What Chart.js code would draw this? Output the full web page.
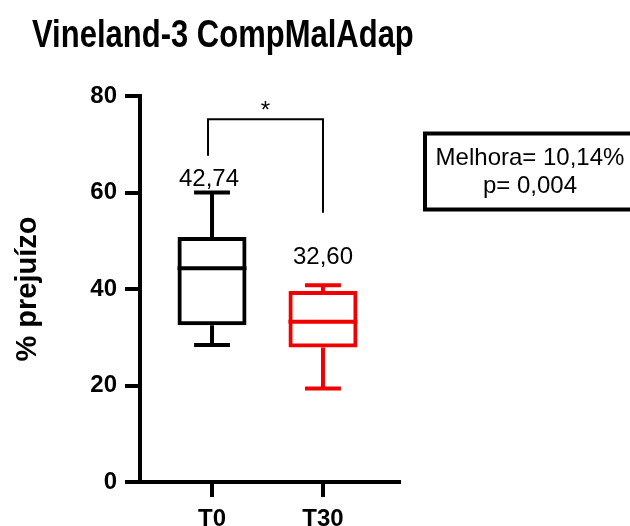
<!DOCTYPE html>
<html>
<head>
<meta charset="utf-8">
<title>Vineland-3 CompMalAdap</title>
<script src="https://cdn.jsdelivr.net/npm/chart.js@4.4.1/dist/chart.umd.min.js"></script>
<style>
  html, body { margin: 0; padding: 0; background: #fff; }
  canvas { display: block; }
</style>
</head>
<body>
<canvas id="chart" width="630" height="526"></canvas>
<script>
const groups = ["T0", "T30"];
const groupX = [1, 2];
const q1 = [32.5, 27.9];
const q3 = [50.8, 39.6];
const medians = [44.3, 33.2];
const mins = [28.4, 19.4];
const maxs = [60.0, 40.8];
const means = [42.74, 32.60];
const yTicks = [0, 20, 40, 60, 80];
const colors = ["#000000", "#f00000"];
const improvement = 10.14;
const pValue = 0.004;

const FONT = "'Liberation Sans', Arial, sans-serif";
const fmt = (v, d) => v.toFixed(d).replace(".", ",");

/* whiskers, medians, mean labels, significance bracket, stats box, title */
const boxExtras = {
  id: "boxExtras",
  afterDatasetsDraw(chart) {
    const ctx = chart.ctx;
    const y = chart.scales.y;
    const bars = chart.getDatasetMeta(0).data;

    ctx.save();
    ctx.lineWidth = 4;
    ctx.lineCap = "butt";
    bars.forEach((bar, i) => {
      const half = bar.width / 2;
      const cap = bar.width * 0.26;
      const yMed = y.getPixelForValue(medians[i]);
      const yTop = y.getPixelForValue(q3[i]);
      const yBot = y.getPixelForValue(q1[i]);
      const yMax = y.getPixelForValue(maxs[i]);
      const yMin = y.getPixelForValue(mins[i]);
      ctx.strokeStyle = colors[i];
      ctx.beginPath();
      ctx.moveTo(bar.x - half, yMed); ctx.lineTo(bar.x + half, yMed);
      ctx.moveTo(bar.x, yTop); ctx.lineTo(bar.x, yMax);
      ctx.moveTo(bar.x - cap, yMax); ctx.lineTo(bar.x + cap, yMax);
      ctx.moveTo(bar.x, yBot); ctx.lineTo(bar.x, yMin);
      ctx.moveTo(bar.x - cap, yMin); ctx.lineTo(bar.x + cap, yMin);
      ctx.stroke();
    });

    // mean labels
    const labelAt = [61.3, 45.2];
    const labelShift = [-3, 0];
    ctx.fillStyle = "#000";
    ctx.font = "24px " + FONT;
    ctx.textAlign = "center";
    ctx.textBaseline = "alphabetic";
    bars.forEach((bar, i) => {
      ctx.fillText(fmt(means[i], 2), bar.x + labelShift[i], y.getPixelForValue(labelAt[i]));
    });

    // significance bracket
    const xl = bars[0].x - 4;
    const xr = bars[1].x;
    const yb = y.getPixelForValue(75.2);
    ctx.strokeStyle = "#000";
    ctx.lineWidth = 2;
    ctx.beginPath();
    ctx.moveTo(xl, y.getPixelForValue(67.6));
    ctx.lineTo(xl, yb);
    ctx.lineTo(xr, yb);
    ctx.lineTo(xr, y.getPixelForValue(55.8));
    ctx.stroke();
    ctx.fillText("*", (xl + xr) / 2, yb - 1);
    ctx.restore();
  },
  afterDraw(chart) {
    const ctx = chart.ctx;
    ctx.save();
    // stats box, runs past the right edge
    ctx.strokeStyle = "#000";
    ctx.lineWidth = 4;
    ctx.strokeRect(425, 133.5, 230, 76);
    ctx.fillStyle = "#000";
    ctx.font = "24px " + FONT;
    ctx.textAlign = "center";
    ctx.fillText("Melhora= " + fmt(improvement, 2) + "%", 530, 165);
    ctx.fillText("p= " + fmt(pValue, 3), 530, 193);

    // title, slightly stretched vertically
    ctx.textAlign = "left";
    ctx.font = "bold 31px " + FONT;
    ctx.translate(32, 47);
    ctx.scale(1, 1.27);
    ctx.fillText("Vineland-3 CompMalAdap", 0, 0);
    ctx.restore();
  }
};

const axisFont = { family: FONT, size: 24, weight: "bold" };

new Chart(document.getElementById("chart"), {
  type: "bar",
  data: {
    datasets: [{
      data: groupX.map((gx, i) => ({ x: gx, y: [q1[i], q3[i]] })),
      backgroundColor: "rgba(0,0,0,0)",
      borderColor: colors,
      borderWidth: 4,
      borderSkipped: false,
      inflateAmount: 0,
      barThickness: 69
    }]
  },
  options: {
    responsive: false,
    animation: false,
    layout: { padding: { top: 96, right: 231, left: 0, bottom: 0 } },
    plugins: {
      legend: { display: false },
      tooltip: { enabled: false }
    },
    scales: {
      x: {
        type: "linear",
        min: 0.351,
        max: 2.685,
        offset: false,
        afterBuildTicks: s => { s.ticks = groupX.map(v => ({ value: v })); },
        afterFit: s => { s.height = 44; },
        border: { display: true, color: "#000", width: 4 },
        grid: { offset: false, drawOnChartArea: false, drawTicks: true, tickLength: 15, lineWidth: 4, color: "#000" },
        ticks: { color: "#000", padding: 8, maxRotation: 0, font: axisFont, callback: (v, i) => groups[i] }
      },
      y: {
        min: 0,
        max: 80,
        afterBuildTicks: s => { s.ticks = yTicks.map(v => ({ value: v })); },
        afterFit: s => { s.width = 140; },
        border: { display: true, color: "#000", width: 4 },
        grid: { drawOnChartArea: false, drawTicks: true, tickLength: 15, lineWidth: 4, color: "#000" },
        ticks: { color: "#000", padding: 8, font: axisFont },
        title: {
          display: true,
          text: "% prejuízo",
          color: "#000",
          font: { family: FONT, size: 29, weight: "bold" },
          padding: { top: 11, bottom: 0 }
        }
      }
    }
  },
  plugins: [boxExtras]
});
</script>
</body>
</html>
